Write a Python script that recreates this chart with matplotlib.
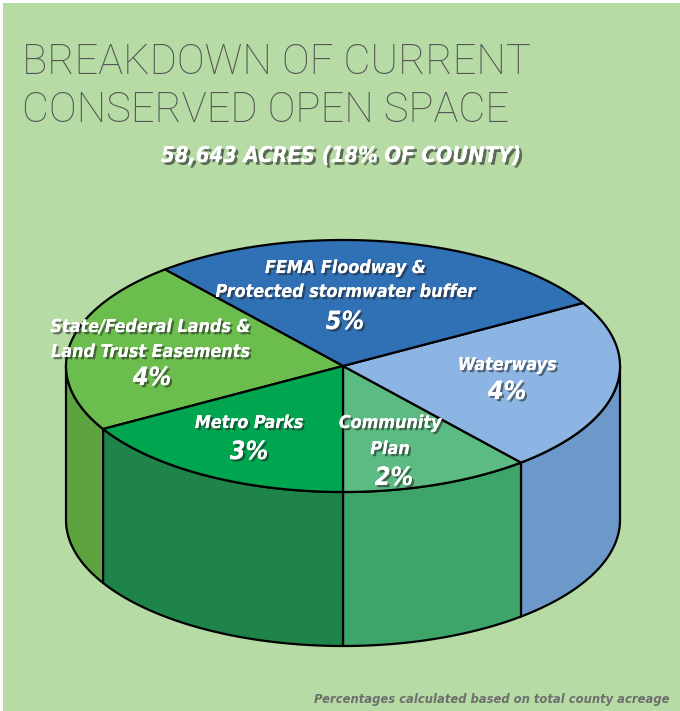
import numpy as np
import matplotlib
matplotlib.use("Agg")
import matplotlib.pyplot as plt
from matplotlib.patches import Polygon, Rectangle
import matplotlib.patheffects as pe
from matplotlib import font_manager as fm

# ---------------- data ----------------
categories = ["Community Plan", "Waterways",
              "FEMA Floodway & Protected stormwater buffer",
              "State/Federal Lands & Land Trust Easements", "Metro Parks"]
values = [2, 4, 5, 4, 3]          # percent of county acreage
label_lines = [["Community", "Plan"], ["Waterways"],
               ["FEMA Floodway &", "Protected stormwater buffer"],
               ["State/Federal Lands &", "Land Trust Easements"],
               ["Metro Parks"]]
title_lines = ["BREAKDOWN OF CURRENT", "CONSERVED OPEN SPACE"]
subtitle = "58,643 ACRES (18% OF COUNTY)"
footnote = "Percentages calculated based on total county acreage"

# ---------------- style ----------------
top_colors = ["#5cbb82", "#8db5e3", "#3070b5", "#6bbe4e", "#00a550"]
side_colors = ["#3da46a", "#6c98ca", "#2a62a3", "#5da340", "#1e8449"]
bg = "#b6dba5"
W, H = 680, 711
cx, cy, a, b, depth = 343, 366, 277, 126, 154
start_angle = 270.0
label_pos = [
    ([(390, 423), (390, 449)], (394, 478)),
    ([(507, 365)], (507, 392)),
    ([(345, 268), (345, 292)], (345, 322)),
    ([(150, 327), (150, 352)], (152, 378)),
    ([(249, 423)], (249, 452)),
]

# pick a condensed bold italic face if one is installed
fonts = fm.fontManager.ttflist
names = {f.name for f in fonts}
cond_kw = dict(family=["Liberation Sans", "DejaVu Sans"], fontstretch="normal")
scale = 0.93
if "Liberation Sans Narrow" in names:
    cond_kw = dict(family=["Liberation Sans Narrow", "DejaVu Sans"], fontstretch="condensed")
    scale = 1.0
elif any(f.name == "DejaVu Sans" and "ondensed" in f.fname for f in fonts):
    cond_kw = dict(family=["DejaVu Sans"], fontstretch="condensed")
    scale = 0.95

fig = plt.figure(figsize=(W / 100, H / 100), dpi=100, facecolor="white")
ax = fig.add_axes([0, 0, 1, 1])
ax.set_xlim(0, W)
ax.set_ylim(H, 0)
ax.axis("off")
ax.add_patch(Rectangle((3, 3), W, H, facecolor=bg, edgecolor="none", zorder=0))


def pt(t_deg, dz=0.0):
    t = np.radians(t_deg)
    return np.column_stack([cx + a * np.cos(t), cy - b * np.sin(t) + dz])


total = float(sum(values))
angles = [start_angle]
for v in values:
    angles.append(angles[-1] + 360.0 * v / total)

# sides (front half: 180..360 deg)
for i in range(len(values)):
    t0, t1 = angles[i], angles[i + 1]
    for k in (-1, 0, 1, 2):
        lo, hi = 180 + 360 * k, 360 + 360 * k
        s0, s1 = max(t0, lo), min(t1, hi)
        if s1 > s0:
            ts = np.linspace(s0, s1, 80)
            top = pt(ts)
            bot = pt(ts[::-1], depth)
            ax.add_patch(Polygon(np.vstack([top, bot]), closed=True,
                                 facecolor=side_colors[i], edgecolor="black",
                                 linewidth=1.6, joinstyle="round", zorder=1))

# tops
for i in range(len(values)):
    ts = np.linspace(angles[i], angles[i + 1], 120)
    poly = np.vstack([[cx, cy], pt(ts)])
    ax.add_patch(Polygon(poly, closed=True, facecolor=top_colors[i],
                         edgecolor="black", linewidth=1.6,
                         joinstyle="round", zorder=2))

shadow = [pe.withSimplePatchShadow(offset=(1.6, -1.6), shadow_rgbFace="#202020",
                                   alpha=0.55), pe.Normal()]

for i, lines in enumerate(label_lines):
    for (x, y), s in zip(label_pos[i][0], lines):
        ax.text(x, y, s, ha="center", va="center", color="white",
                fontsize=13.5 * scale, fontweight="bold", fontstyle="italic",
                path_effects=shadow, zorder=5, **cond_kw)
    x, y = label_pos[i][1]
    ax.text(x, y, f"{values[i]}%", ha="center", va="center", color="white",
            fontsize=19 * scale, fontweight="bold", fontstyle="italic",
            path_effects=shadow, zorder=5, **cond_kw)

# titles
for j, s in enumerate(title_lines):
    ax.text(22, 62 + 48 * j, s, ha="left", va="center", color="#555555",
            fontsize=30, fontweight="light", family=["Roboto", "Lato", "DejaVu Sans"])
ax.text(341, 156, subtitle, ha="center", va="center", color="white",
        fontsize=16.5 * scale, fontweight="bold", fontstyle="italic",
        path_effects=[pe.withSimplePatchShadow(offset=(2, -2), shadow_rgbFace="#202020",
                                               alpha=0.6), pe.Normal()], **cond_kw)
ax.text(670, 699, footnote, ha="right", va="center", color="#6e6e6e",
        fontsize=9.8 * scale, fontweight="bold", fontstyle="italic", **cond_kw)

fig.savefig("out.png", dpi=100, facecolor="white")
